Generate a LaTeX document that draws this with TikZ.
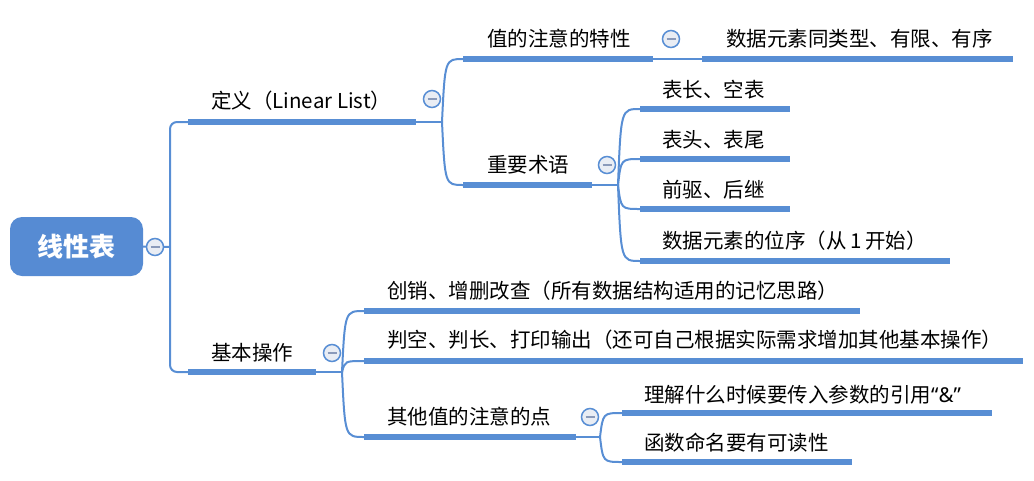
\documentclass[tikz,border=0pt]{standalone}
\usepackage{fontspec}
\setmainfont{Noto Sans CJK SC}
\newfontfamily\latinq{Noto Sans}
\definecolor{mmblue}{RGB}{88,142,212}
\definecolor{rootblue}{RGB}{86,139,211}
\definecolor{foldbg}{RGB}{233,237,244}
\definecolor{foldbar}{RGB}{138,154,186}
\begin{document}
\begin{tikzpicture}[x=1pt,y=-1pt,
  topic/.style={anchor=west,inner sep=0pt,font=\fontsize{20.5}{24}\selectfont,text=black},
  rootbox/.style={fill=rootblue,rounded corners=12pt,minimum width=133pt,minimum height=59pt,
    inner sep=0pt,text=white,font=\fontsize{26}{30}\selectfont\bfseries},
  uline/.style={line width=5.4pt,draw=mmblue},
  link/.style={line width=2pt,draw=mmblue},
  fold/.style={circle,draw=mmblue,fill=foldbg,line width=1.5pt,minimum size=17pt,inner sep=0pt,
    path picture={\draw[line width=2pt,foldbar]
      ([xshift=-4.5pt]path picture bounding box.center) --
      ([xshift=4.5pt]path picture bounding box.center);}}
]
\useasboundingbox (0,0) rectangle (1034,480);

% ---- anchor points of the branches ----
\coordinate (hub) at (170,247);
\coordinate (defA) at (188,122);  \coordinate (defB) at (416,122);  \coordinate (defJ) at (442,122);
\coordinate (opA) at (188,372);   \coordinate (opB) at (316,372);   \coordinate (opJ) at (342,372);
\coordinate (valA) at (463,59);   \coordinate (valB) at (653,59);   \coordinate (valJ) at (702,59);
\coordinate (datB) at (1013,59);
\coordinate (termA) at (463,185); \coordinate (termB) at (592,185); \coordinate (termJ) at (618,185);
\coordinate (t1A) at (640,109);   \coordinate (t1B) at (790,109);
\coordinate (t2A) at (640,159);   \coordinate (t2B) at (790,159);
\coordinate (t3A) at (640,209);   \coordinate (t3B) at (790,209);
\coordinate (t4A) at (640,261);   \coordinate (t4B) at (950,261);
\coordinate (o1A) at (364,311);   \coordinate (o1B) at (860,311);
\coordinate (o2A) at (364,361);   \coordinate (o2B) at (1023,361);
\coordinate (o3A) at (364,437);   \coordinate (o3B) at (576,437);   \coordinate (o3J) at (600,437);
\coordinate (p1A) at (622,413);   \coordinate (p1B) at (992,413);
\coordinate (p2A) at (622,462);   \coordinate (p2B) at (852,462);

% ---- root ----
\node[rootbox] (root) at (76.5,246.5) {线性表};
\draw[link] (root.east) -- (hub);
\draw[link,rounded corners=7pt] (defA) -| (hub) |- (opA);

% ---- first level ----
\draw[uline] (defA) -- (defB);  \draw[link] (defB) -- (defJ);
\draw[uline] (opA) -- (opB);    \draw[link] (opB) -- (opJ);
\node[topic] (def) at (211,101) {定义（Linear List）};
\node[topic] (op)  at (211,353) {基本操作};

% ---- 定义 ----
\draw[link] (defJ) .. controls ([xshift=3pt]defJ |- valA) .. (valA);
\draw[link] (defJ) .. controls ([xshift=3pt]defJ |- termA) .. (termA);
\draw[uline] (valA) -- (valB);  \draw[link] (valB) -- (valJ);
\draw[uline] (valJ) -- (datB);
\draw[uline] (termA) -- (termB); \draw[link] (termB) -- (termJ);
\node[topic] (val)  at (487,39)  {值的注意的特性};
\node[topic] (dat)  at (726,39)  {数据元素同类型、有限、有序};
\node[topic] (term) at (487,165) {重要术语};

\foreach \k in {t1,t2,t3,t4}{
  \draw[link] (termJ) .. controls ([xshift=3pt]termJ |- \k A) .. (\k A);
  \draw[uline] (\k A) -- (\k B);
}
\node[topic] (t1) at (662,90)  {表长、空表};
\node[topic] (t2) at (662,140) {表头、表尾};
\node[topic] (t3) at (662,190) {前驱、后继};
\node[topic] (t4) at (662,241) {数据元素的位序（从\hspace{3.5pt}1\hspace{3.5pt}开始）};

% ---- 基本操作 ----
\foreach \k in {o1,o2,o3}{
  \draw[link] (opJ) .. controls ([xshift=3pt]opJ |- \k A) .. (\k A);
  \draw[uline] (\k A) -- (\k B);
}
\draw[link] (o3B) -- (o3J);
\node[topic] (o1) at (387,291) {创销、增删改查（所有数据结构适用的记忆思路）};
\node[topic] (o2) at (387,340) {判空、判长、打印输出（还可自己根据实际需求增加其他基本操作）};
\node[topic] (o3) at (387,417) {其他值的注意的点};

\foreach \k in {p1,p2}{
  \draw[link] (o3J) .. controls ([xshift=3pt]o3J |- \k A) .. (\k A);
  \draw[uline] (\k A) -- (\k B);
}
\node[topic] (p1) at (644,395) {理解什么时候要传入参数的引用{\latinq“\&”}};
\node[topic] (p2) at (644,443) {函数命名要有可读性};

% ---- collapse markers ----
\node[fold] (rootfold) at (155,247) {};
\node[fold] (deffold)  at (432,99)  {};
\node[fold] (opfold)   at (332,353) {};
\node[fold] (valfold)  at (671,39)  {};
\node[fold] (termfold) at (607,165) {};
\node[fold] (o3fold)   at (590,417) {};
\end{tikzpicture}
\end{document}
